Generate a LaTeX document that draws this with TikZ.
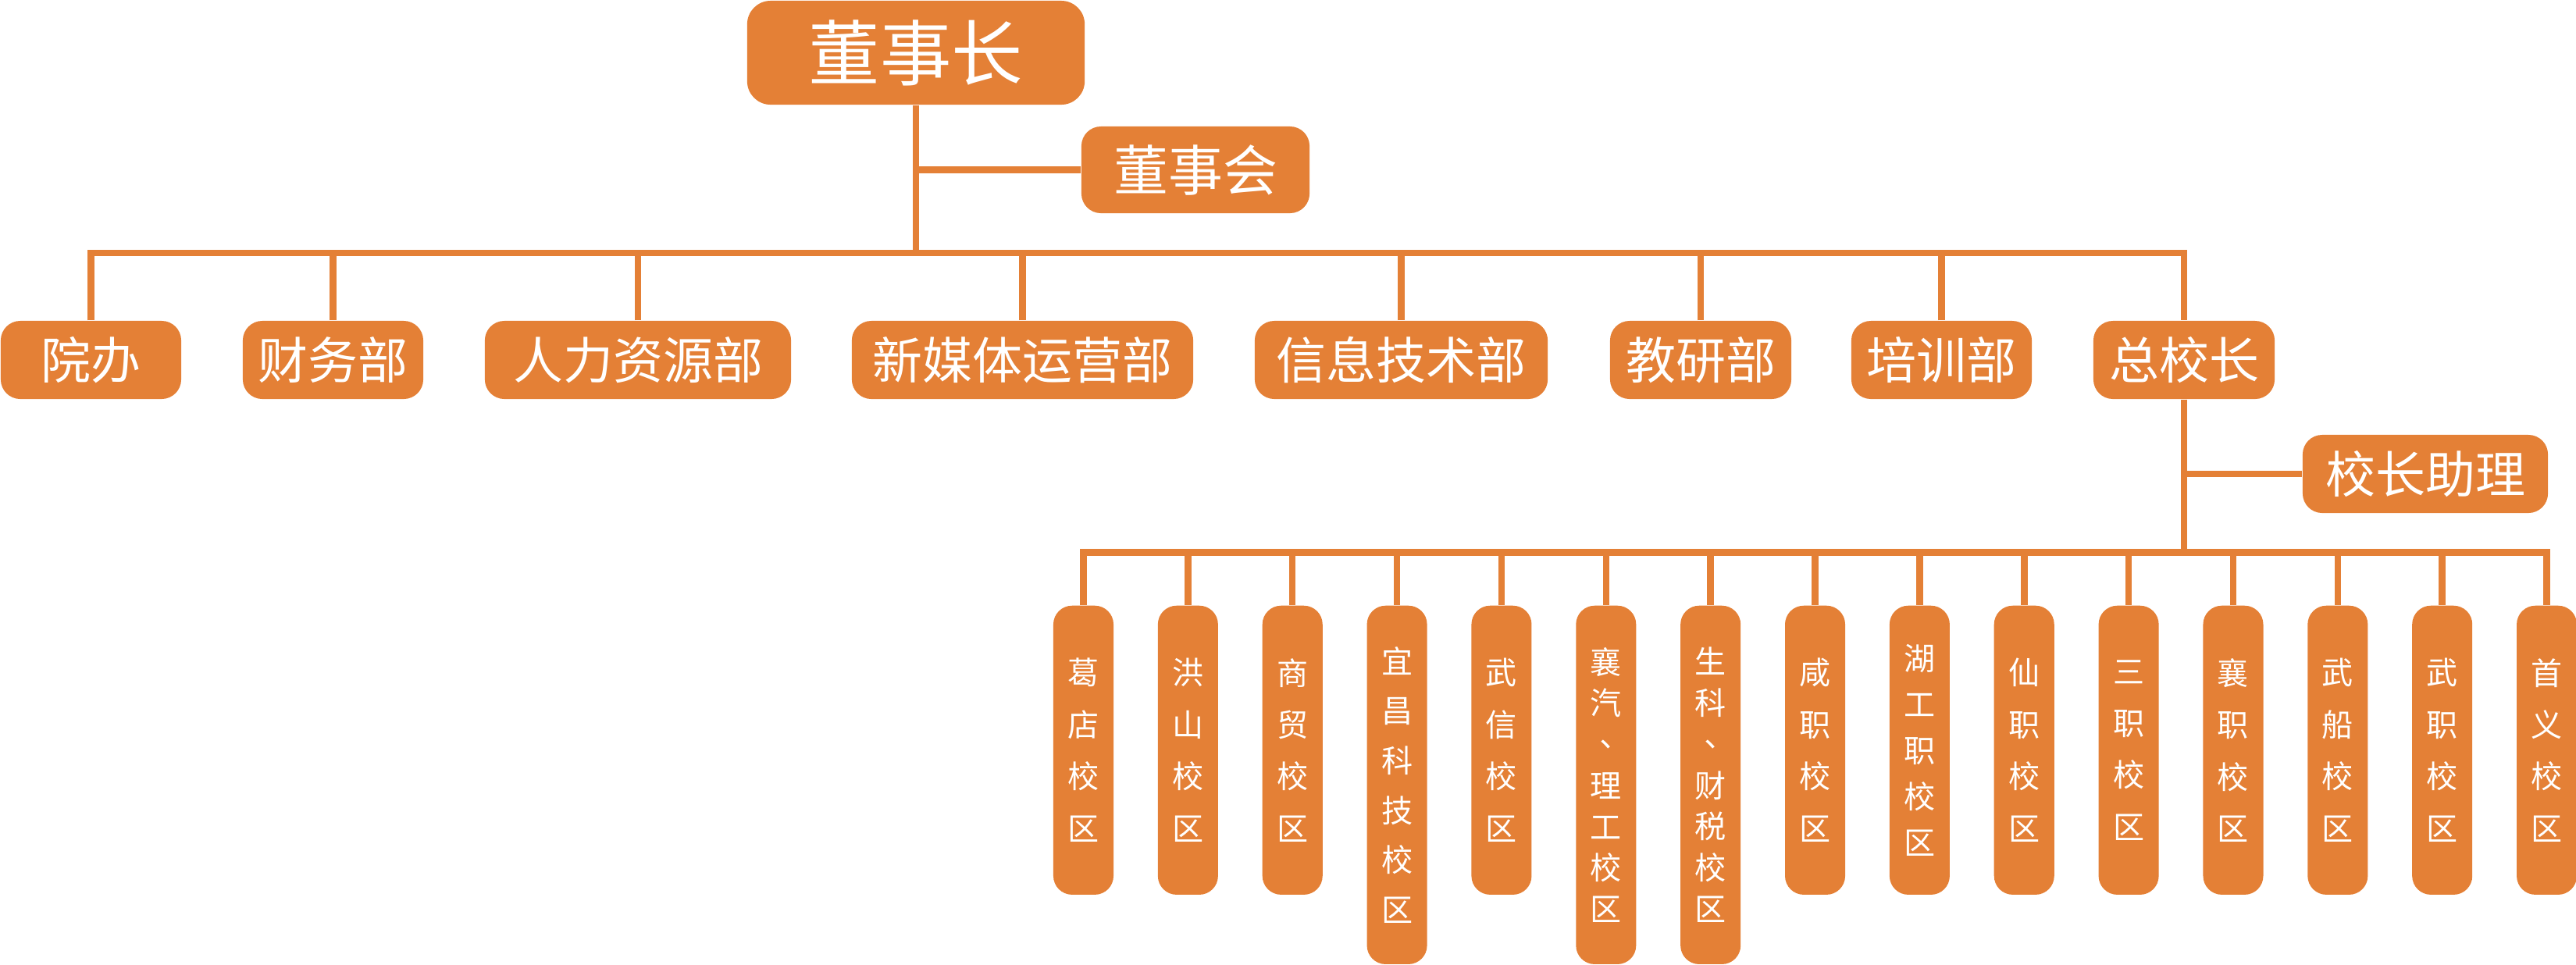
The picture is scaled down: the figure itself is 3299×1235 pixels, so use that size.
\documentclass[tikz,border=0pt]{standalone}
\usepackage{fontspec}
\setmainfont{Noto Sans CJK SC}
\newfontfamily\cjktc{Noto Sans CJK TC}
\usepackage{xcolor}
\definecolor{orgorange}{RGB}{228,128,54}
\tikzset{
  box/.style={fill=orgorange,text=white,inner sep=0pt,align=center},
  dept/.style={box,rounded corners=0.25cm,minimum height=1cm,font=\fontsize{18.2}{22}\selectfont},
  campus/.style={box,rounded corners=0.24cm,minimum width=0.77cm,anchor=north},
  link/.style={draw=orgorange,line width=0.085cm},
}

\begin{document}
\begin{tikzpicture}[x=0.01cm,y=-0.01cm]
\useasboundingbox (0,0) rectangle (3299,1235);
% top level
\node[box,rounded corners=0.3cm,minimum width=4.32cm,minimum height=1.33cm,font=\fontsize{26}{30}\selectfont] (chair) at (1173,67.5) {董事长};
\node[box,rounded corners=0.25cm,minimum width=2.92cm,minimum height=1.11cm,font=\fontsize{19.9}{24}\selectfont] (board) at (1531,217.5) {董事会};
\coordinate (dbus) at (0,324);
% departments
\node[dept,minimum width=2.31cm] (yuanban) at (116.5,461) {院办};
\node[dept,minimum width=2.31cm] (caiwu) at (426.5,461) {财务部};
\node[dept,minimum width=3.92cm] (renli) at (817,461) {人力资源部};
\node[dept,minimum width=4.37cm] (xinmeiti) at (1309.5,461) {新媒体运营部};
\node[dept,minimum width=3.75cm] (xinxi) at (1794.5,461) {信息技术部};
\node[dept,minimum width=2.32cm] (jiaoyan) at (2178,461) {教研部};
\node[dept,minimum width=2.31cm] (peixun) at (2486.5,461) {培训部};
\node[dept,minimum width=2.32cm] (zong) at (2797,461) {总校长};
\node[dept,minimum width=3.14cm] (assist) at (3106,607) {校长助理};
\coordinate (cbus) at (0,707.5);
% campuses
\foreach \i/\txt/\len/\sk in {0/{葛\\店\\校\\区}/3.7/18.9, 1/{洪\\山\\校\\区}/3.7/18.9, 2/{商\\贸\\校\\区}/3.7/18.9,
  3/{宜\\昌\\科\\技\\校\\区}/4.59/18.1, 4/{武\\信\\校\\区}/3.7/18.9, 5/{襄\\汽\\{\cjktc 、}\\理\\工\\校\\区}/4.59/15,
  6/{生\\科\\{\cjktc 、}\\财\\税\\校\\区}/4.59/15, 7/{咸\\职\\校\\区}/3.7/18.9, 8/{湖\\工\\职\\校\\区}/3.7/16.8,
  9/{仙\\职\\校\\区}/3.7/18.9, 10/{三\\职\\校\\区}/3.7/18.9, 11/{襄\\职\\校\\区}/3.7/18.9,
  12/{武\\船\\校\\区}/3.7/18.9, 13/{武\\职\\校\\区}/3.7/18.9, 14/{首\\义\\校\\区}/3.7/18.9}
  \node[campus,minimum height=\len cm,font=\fontsize{11.4}{\sk}\selectfont] (c\i) at (1387.5+133.86*\i,775) {\txt};
% connectors
\draw[link] (chair.south) -- (chair.south |- dbus);
\draw[link] (board.west) -- (board.west -| chair.south);
\draw[link] (yuanban.north) -- (yuanban.north |- dbus) -- (zong.north |- dbus) -- (zong.north);
\foreach \d in {caiwu,renli,xinmeiti,xinxi,jiaoyan,peixun}
  \draw[link] (\d.north) -- (\d.north |- dbus);
\draw[link] (zong.south) -- (zong.south |- cbus);
\draw[link] (assist.west) -- (assist.west -| zong.south);
\draw[link] (c0.north) -- (c0.north |- cbus) -- (c14.north |- cbus) -- (c14.north);
\foreach \i in {1,...,13}
  \draw[link] (c\i.north) -- (c\i.north |- cbus);
\end{tikzpicture}
\end{document}
